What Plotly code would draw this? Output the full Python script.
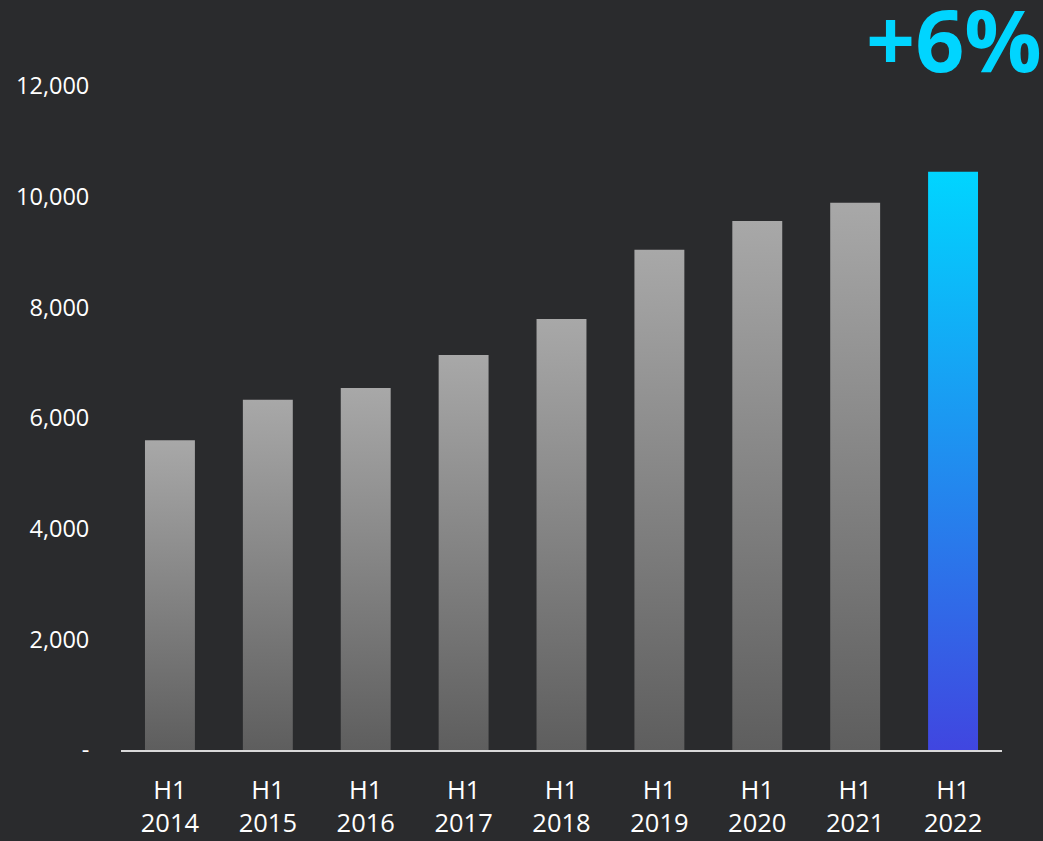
import plotly.graph_objects as go

categories = ["H1<br>2014", "H1<br>2015", "H1<br>2016", "H1<br>2017", "H1<br>2018",
              "H1<br>2019", "H1<br>2020", "H1<br>2021", "H1<br>2022"]
values = [5600, 6330, 6540, 7140, 7790, 9040, 9560, 9890, 10450]
ytick_vals = [0, 2000, 4000, 6000, 8000, 10000, 12000]
ytick_text = ["-", "2,000", "4,000", "6,000", "8,000", "10,000", "12,000"]
growth_label = "+6%"

BG = "#2a2b2d"
gray_scale = [[0, "#5e5e5e"], [1, "#a8a8a8"]]
blue_scale = [[0, "#4046e0"], [1, "#00d5ff"]]
half = 0.255

fig = go.Figure()
for i, v in enumerate(values):
    scale = blue_scale if i == len(values) - 1 else gray_scale
    fig.add_trace(go.Scatter(
        x=[i - half, i + half, i + half, i - half, i - half],
        y=[0, 0, v, v, 0],
        mode="lines", line=dict(width=0),
        fill="toself",
        fillgradient=dict(type="vertical", colorscale=scale, start=0, stop=v),
        hoverinfo="skip", showlegend=False,
    ))

fig.add_annotation(
    text=growth_label, xref="paper", yref="paper",
    x=1.048, y=1.072, xanchor="right", yanchor="middle",
    height=82, valign="middle",
    showarrow=False,
    font=dict(family="Open Sans", size=86, color="#00d5ff", weight="bold"),
)

fig.update_layout(
    width=1043, height=841,
    margin=dict(l=121, r=41, t=86, b=91, autoexpand=False),
    paper_bgcolor=BG, plot_bgcolor=BG,
    font=dict(family="Open Sans", color="#ffffff"),
    xaxis=dict(
        range=[-0.5, len(values) - 0.5],
        tickvals=list(range(len(values))), ticktext=categories,
        showgrid=False, zeroline=False, automargin=False,
        showline=True, linecolor="#d9d9d9", linewidth=2,
        ticks="outside", ticklen=16, tickcolor=BG,
        tickfont=dict(size=25.5, color="#ffffff"),
    ),
    yaxis=dict(
        range=[0, 12000],
        tickvals=ytick_vals, ticktext=ytick_text,
        showgrid=False, zeroline=False, showline=False, automargin=False,
        ticks="outside", ticklen=26, tickcolor=BG,
        tickfont=dict(size=23.5, color="#ffffff"),
    ),
)

fig.write_html(
    "out.html",
    config={"displayModeBar": False},
    post_script="document.body.style.margin='0';document.body.style.background='%s';" % BG,
)
